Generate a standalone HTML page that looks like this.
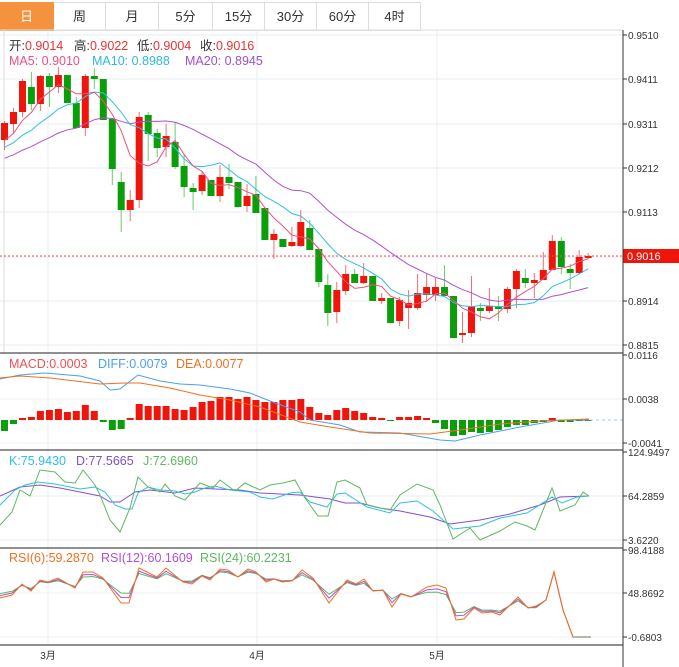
<!DOCTYPE html>
<html><head><meta charset="utf-8">
<style>
body{margin:0;background:#fff;width:679px;height:667px;overflow:hidden;font-family:"Liberation Sans","Noto Sans CJK SC",sans-serif}
.tabs{position:absolute;left:0;top:2px;height:28px;display:flex}
.tab{height:27px;border:1px solid #ddd;border-left:none;font-size:13px;line-height:27px;text-align:center;color:#333;box-sizing:content-box}
.tab.on{background:#f5923e;color:#fff;border-color:#f5923e}
svg{position:absolute;left:0;top:0}
</style></head><body>
<div class="tabs">
<div class="tab on" style="width:53px">日</div><div class="tab" style="width:51px">周</div><div class="tab" style="width:52px">月</div><div class="tab" style="width:53px">5分</div><div class="tab" style="width:51px">15分</div><div class="tab" style="width:51px">30分</div><div class="tab" style="width:51px">60分</div><div class="tab" style="width:51px">4时</div>
</div>
<svg id="s" width="679" height="667" xmlns="http://www.w3.org/2000/svg" font-family="Liberation Sans, Noto Sans CJK SC, sans-serif"></svg>
<script>
var s=document.getElementById('s'),h='';
function L(x1,y1,x2,y2,c,w,d){h+='<line x1="'+x1+'" y1="'+y1+'" x2="'+x2+'" y2="'+y2+'" stroke="'+c+'" stroke-width="'+(w||1)+'"'+(d?' stroke-dasharray="'+d+'"':'')+'/>';}
function T(x,y,t,c,sz,a){h+='<text x="'+x+'" y="'+y+'" fill="'+c+'" font-size="'+(sz||12)+'"'+(a?' text-anchor="'+a+'"':'')+'>'+t+'</text>';}
function P(pts,c,w){h+='<polyline fill="none" stroke="'+c+'" stroke-width="'+(w||1)+'" points="'+pts+'"/>';}
[35,79,124,168,212,257,301,345].forEach(function(y){L(0,y,623,y,'#e6eef3');});
[399,443].forEach(function(y){L(0,y,623,y,'#eef2f5');});
[496,540].forEach(function(y){L(0,y,623,y,'#e6eef3');});
[593,637].forEach(function(y){L(0,y,623,y,'#eef2f5');});
[48,257,437].forEach(function(x){L(x,30,x,645,'#e8eef3');});
L(0,30,623,30,'#ddd');
L(4,30,4,353,'#ddd');
var C=[['r',123,140,121,150],['r',112,124,108,134],['r',81,112,79,117],['g',87,104,72,110],['r',76,104,75,111],['g',76,87,73,107],['r',75,87,67,93],['g',75,103,75,103],['g',103,128,97,128],['r',76,128,74,136],['g',76,79,68,89],['g',79,120,79,120],['g',119,169,119,185],['g',182,210,172,232],['r',200,210,190,221],['r',117,200,112,208],['g',115,134,112,161],['g',133,148,129,157],['r',136,147,124,157],['g',142,167,122,169],['g',166,187,154,197],['g',188,192,183,210],['r',175,191,171,195],['g',180,196,180,196],['r',177,196,165,202],['g',177,183,164,189],['g',182,207,182,207],['r',196,206,184,212],['g',194,213,176,213],['g',208,240,208,240],['r',234,240,229,259],['g',239,247,239,247],['r',242,246,227,247],['r',222,246,210,247],['g',228,250,220,250],['g',249,282,249,287],['g',285,313,274,326],['r',290,312,282,323],['r',274,291,265,295],['g',274,283,269,283],['r',276,283,263,284],['g',276,301,276,301],['r',298,301,293,304],['g',298,323,298,323],['r',300,321,297,326],['r',303,308,290,329],['r',293,308,274,310],['r',287,295,273,301],['r',287,295,278,301],['g',287,296,265,296],['g',296,338,296,338],['r',333,335,312,343],['r',306,333,276,337],['g',308,311,303,321],['r',306,311,288,313],['g',306,309,296,321],['r',289,309,287,313],['r',271,289,269,308],['g',278,283,269,288],['r',280,283,273,298],['r',270,280,252,280],['r',241,270,235,270],['g',241,267,237,274],['g',269,273,264,289],['r',257,273,250,274],['r',256,258,253,259]];
var X=function(i){return 4.5+i*8.98;};
var closes=[];
C.forEach(function(c,i){var x=X(i),col=c[0]=='r'?'#f0150a':'#0a9e0a',wc=c[0]=='r'?'#f07070':'#6cc96c';
L(x.toFixed(1),c[3],x.toFixed(1),c[4],wc);
h+='<rect x="'+(x-3.5).toFixed(1)+'" y="'+c[1]+'" width="7" height="'+Math.max(1.5,c[2]-c[1])+'" fill="'+col+'"/>';
closes.push(c[0]=='r'?c[1]:c[2]);});
var pre=[];for(var k=0;k<19;k++)pre.push(178-k*2);
var all=pre.concat(closes);
function ma(n){var o=[];for(var i=0;i<closes.length;i++){var j=i+19,sm=0;for(var q=0;q<n;q++)sm+=all[j-q];o.push(X(i).toFixed(1)+','+(sm/n).toFixed(1));}return o.join(' ');}
P(ma(20),'#b050d0');P(ma(10),'#30c0e0');P(ma(5),'#f05080');
L(0,256,623,256,'#f05050',1,'2,2');
h+='<rect x="623" y="249" width="56" height="14" fill="#f0150a"/>';T(627,260,'0.9016','#fff',11);
var M=[431,424,418,417,411,410,409,412,411,405,411,422,430,429,418,404,406,406,406,409,410,407,402,401,397,397,399,397,400,402,402,400,400,399,407,413,415,410,408,411,413,417,418,420,417,417,416,418,423,429,436,435,432,433,432,430,427,425,425,423,422,418,422,422,420,420];
M.forEach(function(y,i){var x=X(i),t=Math.min(y,420),b=Math.max(y,420);h+='<rect x="'+(x-3.5).toFixed(1)+'" y="'+t+'" width="7" height="'+Math.max(1,b-t)+'" fill="'+(y<420?'#f0150a':'#0a9e0a')+'"/>';});
L(560,420,623,420,'#9cc8f0',1,'3,3');
P('0,379 20,375 45,373 80,376 100,381 110,390 120,389 138,375 160,381 180,384 200,385 230,389 250,393 270,401 300,412 310,420 340,425 360,432 400,433 440,440 455,441 480,435 520,427 560,420 589,420','#4aa0f0');
P('0,378 20,376 50,378 100,384 125,383 140,383 170,388 200,395 230,400 260,407 300,422 330,427 370,433 430,434 460,430 500,424 540,421 589,419','#f07020');
P('0,496 20,487 40,485 60,488 80,492 100,496 110,502 120,502 135,492 150,490 175,493 195,488 215,489 240,490 260,493 300,495 330,499 345,503 360,503 380,508 400,511 430,517 450,524 480,520 510,514 540,505 560,497 589,496','#8050d0');
P('0,505 15,490 25,485 38,482 55,484 70,487 80,489 95,487 105,492 115,505 125,509 132,509 138,493 148,487 160,490 175,491 185,494 195,492 205,488 215,486 230,490 250,492 260,497 273,499 290,493 300,492 310,502 327,507 337,494 345,493 367,507 390,513 400,503 417,501 433,511 453,529 480,526 500,518 527,513 552,497 562,503 577,497 589,496','#30c0e0');
P('0,525 12,512 20,490 30,496 40,470 55,472 65,482 75,483 83,470 95,485 100,495 110,520 120,532 130,508 138,477 148,487 160,492 165,484 175,496 185,500 200,483 213,488 220,480 235,491 245,483 260,490 270,485 283,483 295,480 305,498 318,516 328,516 337,482 345,480 360,488 367,505 375,507 390,510 400,495 417,484 433,490 440,505 453,539 470,528 480,540 500,531 515,522 527,526 535,530 552,488 560,511 575,505 583,492 589,496','#60b860');
var R=[[0,598],[12,595],[22,584],[31,591],[40,580],[48,582],[58,578],[75,588],[83,572],[93,572],[103,578],[121,603],[129,603],[139,568],[157,577],[166,568],[183,582],[192,584],[202,576],[210,580],[220,569],[228,570],[238,577],[248,569],[256,572],[266,582],[274,579],[282,582],[292,581],[302,570],[313,578],[329,603],[347,580],[356,584],[364,579],[373,591],[383,590],[392,607],[401,594],[411,597],[427,587],[437,585],[446,588],[456,620],[464,619],[474,608],[482,613],[492,612],[500,615],[518,597],[528,608],[536,606],[546,600],[554,572],[563,610],[573,637],[591,637]];
function rs(f){return R.map(function(p,i){var a=Math.max(0,i-5),b=Math.min(R.length-1,i+5),sm=0;for(var q=a;q<=b;q++)sm+=R[q][1];var c=sm/(b-a+1);var y=p[0]>=546?p[1]:c+(p[1]-c)*f;return p[0]+','+y.toFixed(1);}).join(' ');}
P(rs(0.55),'#60b860');P(rs(0.75),'#b050d0');P(rs(1),'#f07020');
L(573,637,591,637,'#b8b8a8',2);
[353,450,548,645].forEach(function(y){L(0,y,623,y,'#222');});
L(623,30,623,667,'#333');
var ax=[[35,'0.9510'],[79,'0.9411'],[124,'0.9311'],[168,'0.9212'],[212,'0.9113'],[301,'0.8914'],[345,'0.8815'],[355,'0.0116'],[399,'0.0038'],[443,'-0.0041'],[452,'124.9497'],[496,'64.2859'],[540,'3.6220'],[550,'98.4188'],[593,'48.8692'],[637,'-0.6803']];
ax.forEach(function(a){L(623,a[0],627,a[0],'#333');T(628,a[0]+4,a[1],'#333',10);});
T(48,659,'3月','#333',10,'middle');T(257,659,'4月','#333',10,'middle');T(437,659,'5月','#333',10,'middle');
var fs=12.5;
function G(y,items){items.forEach(function(it){h+='<text x="'+it[0]+'" y="'+y+'" font-size="'+fs+'">'+(it[3]?'<tspan fill="#333">'+it[3]+'</tspan>':'')+'<tspan fill="'+it[2]+'">'+it[1]+'</tspan></text>';});}
G(50,[[9,'0.9014','#f03030','开:'],[74,'0.9022','#f03030','高:'],[137,'0.9004','#f03030','低:'],[200,'0.9016','#f03030','收:']]);
G(65,[[9,'MA5: 0.9010','#f05080'],[92,'MA10: 0.8988','#30b8d8'],[185,'MA20: 0.8945','#a050c8']]);
G(368,[[9,'MACD:0.0003','#f05050'],[98,'DIFF:0.0079','#4aa0f0'],[176,'DEA:0.0077','#f07020']]);
G(465,[[9,'K:75.9430','#30c0e0'],[76,'D:77.5665','#8050d0'],[143,'J:72.6960','#60b860']]);
G(562,[[9,'RSI(6):59.2870','#f07020'],[101,'RSI(12):60.1609','#b050d0'],[200,'RSI(24):60.2231','#60b860']]);
s.innerHTML=h;
</script>
</body></html>
